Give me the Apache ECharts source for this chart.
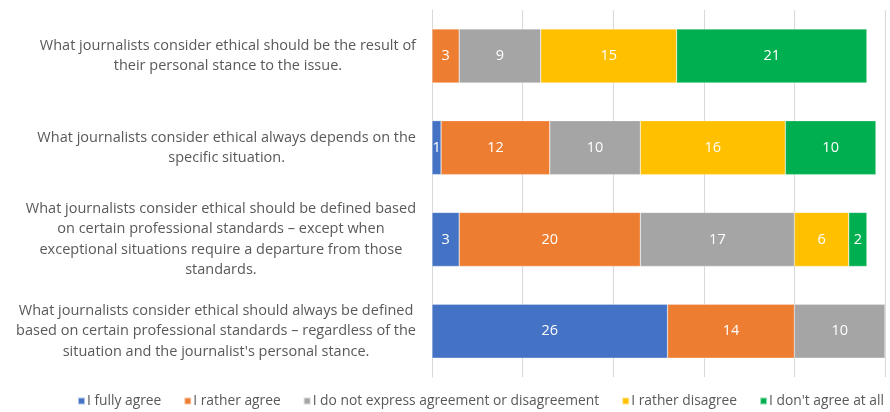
<!DOCTYPE html>
<html>
<head>
<meta charset="utf-8">
<script src="https://cdn.jsdelivr.net/npm/echarts@6/dist/echarts.min.js"></script>
<style>
  html, body { margin: 0; padding: 0; background: #fff; }
  #chart { width: 890px; height: 412px; }
</style>
</head>
<body>
<div id="chart"></div>
<script>
// Statements, top to bottom; each entry holds the wrapped lines of the label
const statements = [
  ['What journalists consider ethical should be the result of', 'their personal stance to the issue.'],
  ['What journalists consider ethical always depends on the', 'specific situation.'],
  ['What journalists consider ethical should be defined based', 'on certain professional standards \u2013 except when', 'exceptional situations require a departure from those', 'standards.'],
  ['What journalists consider ethical should always be defined', 'based on certain professional standards \u2013 regardless of the', "situation and the journalist's personal stance."]
];

const seriesNames = [
  'I fully agree',
  'I rather agree',
  'I do not express agreement or disagreement',
  'I rather disagree',
  "I don't agree at all"
];

// Responses per statement (same order as statements)
const fullyAgree    = [null, 1, 3, 26];
const ratherAgree   = [3, 12, 20, 14];
const neutral       = [9, 10, 17, 10];
const ratherDisagree = [15, 16, 6, null];
const notAtAll      = [21, 10, 2, null];

const seriesValues = [fullyAgree, ratherAgree, neutral, ratherDisagree, notAtAll];
const colors = ['#4472C4', '#ED7D31', '#A5A5A5', '#FFC000', '#00B050'];

const categories = statements.map(lines => lines.join('\n'));

const chart = echarts.init(document.getElementById('chart'), null, { renderer: 'canvas' });

const fontFamily = '"Open Sans", "Liberation Sans", sans-serif';

chart.setOption({
  animation: false,
  backgroundColor: '#ffffff',
  grid: { left: 432, right: 5, top: 10, bottom: 35, containLabel: false },
  xAxis: {
    type: 'value',
    min: 0,
    max: 50,
    interval: 10,
    axisLabel: { show: false },
    axisLine: { show: false },
    axisTick: { show: false },
    splitLine: { lineStyle: { color: '#d9d9d9', width: 1 } }
  },
  yAxis: {
    type: 'category',
    inverse: true,
    data: categories,
    axisLine: { lineStyle: { color: '#d9d9d9', width: 1 } },
    axisTick: { length: 4, lineStyle: { color: '#d9d9d9' } },
    axisLabel: {
      margin: 16,
      align: 'right',
      formatter: function (value) {
        return value.split('\n').map(l => '{c|' + l + '}').join('\n');
      },
      rich: {
        c: {
          align: 'center',
          color: '#595959',
          fontSize: 14.5,
          lineHeight: 20.5,
          fontFamily: fontFamily
        }
      }
    }
  },
  legend: {
    bottom: 4,
    left: 77,
    width: 813,
    padding: 0,
    icon: 'rect',
    itemWidth: 7,
    itemHeight: 7,
    itemGap: 22,
    textStyle: { color: '#595959', fontSize: 13.8, fontFamily: fontFamily, padding: [0, 0, 0, -3] },
    data: seriesNames
  },
  series: seriesNames.map((name, i) => ({
    name: name,
    type: 'bar',
    stack: 'total',
    barWidth: 54,
    itemStyle: { color: colors[i], borderColor: 'rgba(255,255,255,0.6)', borderWidth: 0.5 },
    label: {
      show: true,
      position: 'inside',
      color: '#ffffff',
      fontSize: 14.5,
      fontFamily: fontFamily
    },
    data: seriesValues[i]
  }))
});
</script>
</body>
</html>
